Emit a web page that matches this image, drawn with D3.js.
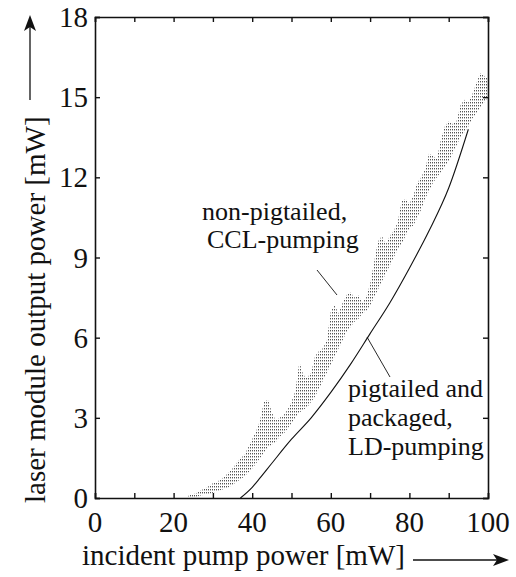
<!DOCTYPE html>
<html><head><meta charset="utf-8">
<script src="https://cdn.jsdelivr.net/npm/d3@7"></script>
<style>
body{margin:0;background:#fff;}
</style></head>
<body><svg id="c" width="516" height="577"></svg>
<script>
// ---- data ----
const xTicks = [0,10,20,30,40,50,60,70,80,90,100];
const xLabels = [0,20,40,60,80,100];
const yTicks = [0,3,6,9,12,15,18];
// LD-pumping (pigtailed and packaged) curve
const ldPump = [37,40,42,45,50,55,60,65,70,75,80,85,90,95];
const ldPower = [0,0.4,0.75,1.3,2.2,3.0,3.95,5.0,6.15,7.3,8.6,10.0,11.6,13.8];
// CCL-pumping (non-pigtailed) band: upper / lower envelope
const cclPump = [23,24,25,26,27,28,29,30,31,32,33,34,35,36,37,38,39,40,41,42,43,44,45,46,47,48,49,50,
  51,52,53,54,55,56,57,58,59,60,61,62,63,64,65,66,67,68,69,70,71,72,73,74,75,76,77,78,79,80,
  81,82,83,84,85,86,87,88,89,90,91,92,93,94,95,96,97,98,99,100];
const cclUpper = [0,0.1,0.15,0.2,0.3,0.35,0.45,0.55,0.6,0.7,0.8,0.95,1.1,1.3,1.5,1.6,1.9,2.2,2.5,2.9,3.6,3.7,3.2,2.9,3.0,3.1,3.3,3.6,
  4.0,5.1,4.6,4.5,4.7,5.3,5.5,5.6,5.9,7.0,7.2,6.9,7.3,7.6,7.7,7.5,7.6,7.3,7.5,8.0,8.8,9.6,9.8,9.5,9.8,10.0,10.3,11.1,11.2,11.0,
  11.3,11.8,12.0,12.3,12.9,12.8,12.7,13.4,13.9,14.1,14.0,14.1,14.7,14.9,14.8,15.1,15.5,15.9,15.8,15.7];
const cclLower = [0,0,0.02,0.05,0.1,0.12,0.15,0.2,0.25,0.3,0.35,0.4,0.5,0.6,0.7,0.8,0.95,1.1,1.3,1.5,1.7,1.9,2.0,2.1,2.3,2.4,2.6,2.8,
  3.0,3.2,3.3,3.4,3.6,3.8,4.1,4.4,4.7,5.0,5.3,5.6,5.9,6.2,6.4,6.6,6.7,6.9,7.0,7.2,7.5,7.8,8.1,8.4,8.7,9.0,9.3,9.5,9.8,10.1,
  10.2,10.5,10.8,11.2,11.5,11.8,12.0,12.2,12.4,12.6,12.9,13.2,13.5,13.7,13.9,14.2,14.4,14.6,14.8,15.0];

// ---- layout ----
const svg = d3.select("#c");
const FONT = '"Liberation Serif"';
const L=95, R=488, T=17, B=498;
const x = d3.scaleLinear().domain([0,100]).range([L,R]);
const y = d3.scaleLinear().domain([0,18]).range([B,T]);

// stipple pattern
const defs = svg.append("defs");
const pat = defs.append("pattern").attr("id","dots").attr("width",2).attr("height",3)
  .attr("patternUnits","userSpaceOnUse");
pat.append("rect").attr("x",0).attr("y",0).attr("width",1).attr("height",1.4).attr("fill","#555");

// CCL band
const band = cclPump.map((p,i)=>({p, u:cclUpper[i], l:cclLower[i]}));
svg.append("path").datum(band)
  .attr("d", d3.area().x(d=>x(d.p)).y0(d=>y(d.l)).y1(d=>y(d.u)))
  .attr("fill","url(#dots)").attr("stroke","none");

// LD curve
const ld = ldPump.map((p,i)=>({p, v:ldPower[i]}));
svg.append("path").datum(ld)
  .attr("d", d3.line().x(d=>x(d.p)).y(d=>y(d.v)).curve(d3.curveMonotoneX))
  .attr("fill","none").attr("stroke","#111").attr("stroke-width",1.1);

// axes (ticks inward)
const g = svg.append("g");
g.append("g").attr("transform",`translate(0,${B})`)
  .call(d3.axisBottom(x).tickValues(xTicks).tickSize(-5).tickFormat(""));
g.append("g").attr("transform",`translate(0,${T})`)
  .call(d3.axisTop(x).tickValues(xTicks).tickSize(-5).tickFormat(""));
g.append("g").attr("transform",`translate(${L},0)`)
  .call(d3.axisLeft(y).tickValues(yTicks).tickSize(-5).tickFormat(""));
g.append("g").attr("transform",`translate(${R},0)`)
  .call(d3.axisRight(y).tickValues(yTicks).tickSize(-5).tickFormat(""));
g.selectAll(".domain").attr("stroke","#111").attr("stroke-width",1.6);
g.selectAll(".tick line").attr("stroke","#111").attr("stroke-width",1.4);

function txt(sel){ return sel.style("font-family",FONT).attr("fill","#111"); }

// tick labels
txt(svg.append("g").selectAll("text").data(xLabels).join("text"))
  .attr("x",d=>x(d)).attr("y",532).attr("text-anchor","middle")
  .attr("font-size",29).text(d=>d);
txt(svg.append("g").selectAll("text").data(yTicks).join("text"))
  .attr("x",88).attr("y",d=>y(d)+10).attr("text-anchor","end")
  .attr("font-size",29).text(d=>d);

// axis titles
txt(svg.append("text")).attr("x",82).attr("y",565).attr("font-size",29)
  .text("incident pump power [mW]");
txt(svg.append("text")).attr("transform","translate(45,503) rotate(-90)")
  .attr("font-size",29).text("laser module output power [mW]");

// arrows
svg.append("line").attr("x1",413).attr("y1",560).attr("x2",505).attr("y2",560)
  .attr("stroke","#111").attr("stroke-width",1.3);
svg.append("path").attr("d","M509,560 L493,554 L497,560 L493,566 Z").attr("fill","#111");
svg.append("line").attr("x1",30).attr("y1",100).attr("x2",30).attr("y2",19)
  .attr("stroke","#111").attr("stroke-width",1.3);
svg.append("path").attr("d","M30,15 L24,31 L30,27 L36,31 Z").attr("fill","#111");

// annotations
const ann = svg.append("g");
[["non-pigtailed,",202,220],["CCL-pumping",207,248],["pigtailed and",348,397],
 ["packaged,",348,426],["LD-pumping",348,455]].forEach(a=>{
  txt(ann.append("text")).attr("x",a[1]).attr("y",a[2]).attr("font-size",26).text(a[0]);
});
svg.append("line").attr("x1",317).attr("y1",270).attr("x2",337).attr("y2",295)
  .attr("stroke","#111").attr("stroke-width",0.9);
svg.append("line").attr("x1",367).attr("y1",337).attr("x2",390).attr("y2",377)
  .attr("stroke","#111").attr("stroke-width",0.9);
</script></body></html>
